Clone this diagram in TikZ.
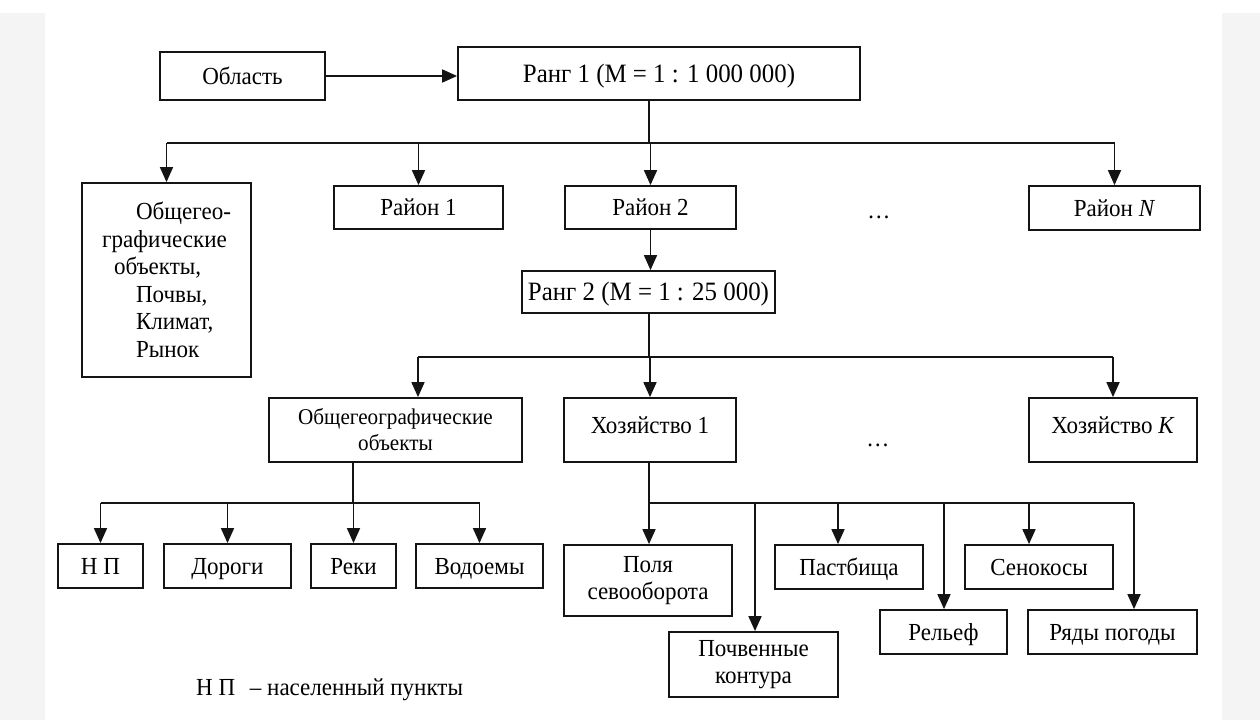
\documentclass[tikz,border=0pt]{standalone}
\usepackage{fontspec}
\setmainfont{Liberation Serif}[FakeStretch=0.94]
\usetikzlibrary{arrows.meta}
\definecolor{ink}{HTML}{141414}
\definecolor{stripgray}{HTML}{F4F4F4}
\begin{document}
\begin{tikzpicture}[x=1pt,y=-1pt,
  lab/.style={font=\fontsize{24.5}{27.5}\selectfont},
  big/.style={font=\fontsize{26.5}{29}\selectfont, text height=17.5pt, text depth=0pt},
  small/.style={font=\fontsize{22.5}{26}\selectfont},
  one/.style={text height=16pt, text depth=0pt},
  bx/.style={draw=ink, line width=1.8pt, fill=white, inner sep=0pt, align=center, lab},
  ln/.style={draw=ink, line width=1.7pt},
  arr/.style={ln, -{Triangle[length=15pt,width=13pt]}},
]
\useasboundingbox (0,0) rectangle (1260,720);
\fill[white] (0,0) rectangle (1260,720);
\fill[stripgray] (0,13) rectangle (45,720);
\fill[stripgray] (1222,13) rectangle (1260,720);

% row 0
\node[bx, one, minimum width=165pt, minimum height=48pt] (obl) at (242.5,76) {Область};
\node[bx, big, minimum width=402pt, minimum height=53pt] (r1) at (659,73.5) {Ранг 1 (M = 1 : 1 000 000)};
\draw[arr] (obl.east) -- (obl.east -| r1.west);

% row 1
\node[bx, minimum width=169pt, minimum height=194pt, align=left] (og) at (166.5,280)
  {\hspace*{34pt}Общегео-\\графические\\\hspace*{12pt}объекты,\\\hspace*{34pt}Почвы,\\\hspace*{34pt}Климат,\\\hspace*{34pt}Рынок};
\node[bx, one, minimum width=169pt, minimum height=43pt] (ra1) at (418.5,207.5) {Район 1};
\node[bx, one, minimum width=171pt, minimum height=43pt] (ra2) at (650.5,207.5) {Район 2};
\node[lab] (dots1) at (879,217) {\dots};
\node[bx, one, minimum width=171pt, minimum height=44pt] (raN) at (1114.5,208) {Район \textit{N}};

\coordinate (b1) at (649,143);
\draw[ln] (r1.south -| b1) -- (b1);
\draw[ln] (og.north |- b1) -- (raN.north |- b1);
\draw[arr] (og.north |- b1) -- (og.north);
\draw[arr] (ra1.north |- b1) -- (ra1.north);
\draw[arr] (ra2.north |- b1) -- (ra2.north);
\draw[arr] (raN.north |- b1) -- (raN.north);

% rank 2
\node[bx, big, minimum width=253pt, minimum height=42pt] (r2) at (648.5,292) {Ранг 2 (M = 1 : 25 000)};
\draw[arr] (ra2.south) -- (ra2.south |- r2.north);

% row 2
\node[bx, small, minimum width=253pt, minimum height=64pt] (og2) at (395.5,430) {Общегеографические\\объекты};
\node[bx, minimum width=172pt, minimum height=64pt] (h1) at (650,430) {};
\node[lab, one] (h1t) at (650,425) {Хозяйство 1};
\node[lab] (dots2) at (878,445) {\dots};
\node[bx, minimum width=168pt, minimum height=64pt] (hK) at (1113,430) {};
\node[lab, one] (hKt) at (1113,425) {Хозяйство \textit{K}};

\coordinate (b2) at (649,357);
\coordinate (og2in) at (418,357);
\draw[ln] (r2.south -| b2) -- (b2);
\draw[ln] (og2in) -- (hK.north |- b2);
\draw[arr] (og2in) -- (og2in |- og2.north);
\draw[arr] (h1.north |- b2) -- (h1.north);
\draw[arr] (hK.north |- b2) -- (hK.north);

% row 3 left
\node[bx, one, minimum width=85pt, minimum height=44pt] (np) at (100.5,566) {Н П};
\node[bx, one, minimum width=127pt, minimum height=44pt] (dor) at (227.5,566) {Дороги};
\node[bx, one, minimum width=85pt, minimum height=44pt] (rek) at (353.5,566) {Реки};
\node[bx, one, minimum width=127pt, minimum height=44pt] (vod) at (479.5,566) {Водоемы};

\coordinate (b3a) at (353,503);
\draw[ln] (og2.south -| b3a) -- (b3a);
\draw[ln] (np.north |- b3a) -- (vod.north |- b3a);
\draw[arr] (np.north |- b3a) -- (np.north);
\draw[arr] (dor.north |- b3a) -- (dor.north);
\draw[arr] (rek.north |- b3a) -- (rek.north);
\draw[arr] (vod.north |- b3a) -- (vod.north);

% row 3 right
\node[bx, minimum width=168pt, minimum height=71pt] (pol) at (648,580.5) {Поля\\севооборота};
\node[bx, minimum width=169pt, minimum height=65pt] (poch) at (753.5,664.5) {Почвенные\\контура};
\node[bx, one, minimum width=148pt, minimum height=44pt] (past) at (849,567) {Пастбища};
\node[bx, one, minimum width=127pt, minimum height=44pt] (rel) at (943.5,632) {Рельеф};
\node[bx, one, minimum width=148pt, minimum height=44pt] (sen) at (1039,567) {Сенокосы};
\node[bx, one, minimum width=169pt, minimum height=44pt] (ryad) at (1112.5,632) {Ряды погоды};

\coordinate (b3b) at (649,503);
\coordinate (cpoch) at (755,503);
\coordinate (cpast) at (838,503);
\coordinate (crel) at (944,503);
\coordinate (csen) at (1029,503);
\coordinate (cryad) at (1134,503);
\draw[ln] (h1.south -| b3b) -- (b3b);
\draw[ln] (b3b) -- (cryad);
\draw[arr] (b3b) -- (b3b |- pol.north);
\draw[arr] (cpoch) -- (cpoch |- poch.north);
\draw[arr] (cpast) -- (cpast |- past.north);
\draw[arr] (crel) -- (crel |- rel.north);
\draw[arr] (csen) -- (csen |- sen.north);
\draw[arr] (cryad) -- (cryad |- ryad.north);

% footnote
\node[lab, anchor=west, inner sep=0pt] (note) at (196,690) {Н П\hspace{0.6em}– населенный пункты};
\end{tikzpicture}
\end{document}
